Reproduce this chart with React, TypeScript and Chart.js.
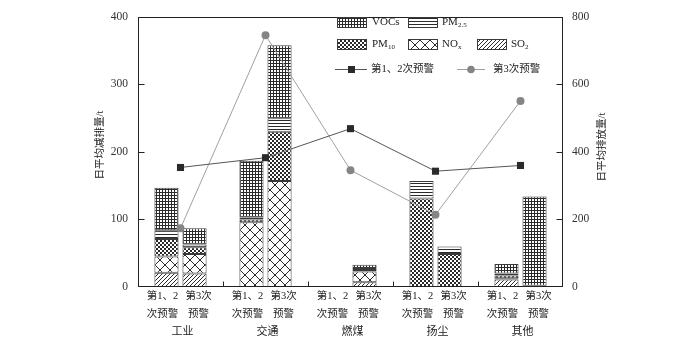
import React, { useEffect, useRef } from 'react';
import { Chart, registerables } from 'chart.js';
Chart.register(...registerables);

const categories = ['工业', '交通', '燃煤', '扬尘', '其他'];
const subLabelsA = ['第1、2', '次预警'];
const subLabelsB = ['第3次', '预警'];

// stacked daily reductions (t), A = 第1、2次预警, B = 第3次预警
const so2A = [21, 0, 0, 0, 11];
const so2B = [20, 0, 7, 0, 0];
const noxA = [24, 96, 0, 0, 2];
const noxB = [29, 157, 16, 0, 0];
const pm10A = [26, 4, 0, 131, 4];
const pm10B = [10, 73, 2, 49, 1];
const pm25A = [13, 3, 0, 26, 3];
const pm25B = [4, 20, 3, 11, 1];
const vocA = [63, 84, 0, 0, 14];
const vocB = [24, 108, 5, 0, 132];

// daily emissions (t), right axis
const warn12 = [354, 383, 469, 343, 360];
const warn3 = [174, 746, 346, 214, 551];

const leftMax = 400;
const leftStep = 100;
const rightMax = 800;
const rightStep = 200;

const FONT = "'Liberation Serif', 'Noto Sans CJK SC', serif";
const INK = '#333';

function makePattern(kind: string): CanvasPattern {
  const sizes: Record<string, number> = { voc: 3, pm25: 3, pm10: 4, nox: 10, so2: 4 };
  const s = sizes[kind];
  const c = document.createElement('canvas');
  c.width = s;
  c.height = s;
  const g = c.getContext('2d')!;
  g.fillStyle = '#fff';
  g.fillRect(0, 0, s, s);
  g.fillStyle = '#2a2a2a';
  g.strokeStyle = '#2a2a2a';
  g.lineWidth = 1;
  if (kind === 'voc') {
    g.fillRect(0, 0, s, 1);
    g.fillRect(0, 0, 1, s);
  } else if (kind === 'pm25') {
    g.fillRect(0, 0, s, 1);
  } else if (kind === 'pm10') {
    g.fillRect(0, 0, 2, 2);
    g.fillRect(2, 2, 2, 2);
  } else if (kind === 'nox') {
    g.beginPath();
    g.moveTo(0, 0); g.lineTo(s, s);
    g.moveTo(s, 0); g.lineTo(0, s);
    g.stroke();
  } else if (kind === 'so2') {
    g.beginPath();
    g.moveTo(-1, s + 1); g.lineTo(s + 1, -1);
    g.moveTo(-1, 1); g.lineTo(1, -1);
    g.moveTo(s - 1, s + 1); g.lineTo(s + 1, s - 1);
    g.stroke();
  }
  return g.createPattern(c, 'repeat')!;
}

function drawRich(ctx: CanvasRenderingContext2D, x: number, y: number, main: string, sub?: string, size = 11) {
  ctx.textAlign = 'left';
  ctx.textBaseline = 'middle';
  ctx.font = `${size}px ${FONT}`;
  ctx.fillText(main, x, y);
  if (sub) {
    const w = ctx.measureText(main).width;
    ctx.font = `${Math.round(size * 0.68)}px ${FONT}`;
    ctx.fillText(sub, x + w, y + 3);
  }
}

export default function App() {
  const ref = useRef<HTMLCanvasElement>(null);

  useEffect(() => {
    document.body.style.margin = '0';
    const canvas = ref.current!;
    const P = {
      voc: makePattern('voc'),
      pm25: makePattern('pm25'),
      pm10: makePattern('pm10'),
      nox: makePattern('nox'),
      so2: makePattern('so2'),
    };

    const bar = (label: string, data: number[], stack: string, fill: any) => ({
      type: 'bar' as const,
      label,
      data,
      stack,
      yAxisID: 'y',
      backgroundColor: fill,
      borderColor: '#3a3a3a',
      borderWidth: 1,
      borderSkipped: false,
      categoryPercentage: 0.66,
      barPercentage: 0.86,
      order: 1,
    });

    const datasets: any[] = [
      {
        type: 'line',
        label: '第1、2次预警',
        data: warn12,
        yAxisID: 'y2',
        borderColor: '#555',
        borderWidth: 1,
        pointStyle: 'rect',
        pointRadius: 5,
        pointBackgroundColor: '#2a2a2a',
        pointBorderColor: '#2a2a2a',
        pointBorderWidth: 0,
        tension: 0,
        order: 0,
      },
      {
        type: 'line',
        label: '第3次预警',
        data: warn3,
        yAxisID: 'y2',
        borderColor: '#a0a0a0',
        borderWidth: 1,
        pointStyle: 'circle',
        pointRadius: 4,
        pointBackgroundColor: '#858585',
        pointBorderColor: '#858585',
        pointBorderWidth: 0,
        tension: 0,
        order: 0,
      },
      bar('SO2', so2A, 'A', P.so2),
      bar('SO2', so2B, 'B', P.so2),
      bar('NOx', noxA, 'A', P.nox),
      bar('NOx', noxB, 'B', P.nox),
      bar('PM10', pm10A, 'A', P.pm10),
      bar('PM10', pm10B, 'B', P.pm10),
      bar('PM2.5', pm25A, 'A', P.pm25),
      bar('PM2.5', pm25B, 'B', P.pm25),
      bar('VOCs', vocA, 'A', P.voc),
      bar('VOCs', vocB, 'B', P.voc),
    ];

    const overlay = {
      id: 'overlay',
      afterDraw(chart: any) {
        const { ctx, chartArea: a, scales } = chart;
        const xs = scales.x, ys = scales.y, y2s = scales.y2;
        ctx.save();
        ctx.strokeStyle = '#222';
        ctx.lineWidth = 1;
        const L = Math.round(a.left) + 0.5, R = Math.round(a.right) - 0.5;
        const T = Math.round(a.top) + 0.5, B = Math.round(a.bottom) - 0.5;
        ctx.strokeRect(L, T, R - L, B - T);
        ctx.beginPath();
        for (let v = leftStep; v < leftMax; v += leftStep) {
          const py = Math.round(ys.getPixelForValue(v)) + 0.5;
          ctx.moveTo(L, py); ctx.lineTo(L + 6, py);
        }
        for (let v = rightStep; v < rightMax; v += rightStep) {
          const py = Math.round(y2s.getPixelForValue(v)) + 0.5;
          ctx.moveTo(R, py); ctx.lineTo(R - 6, py);
        }
        for (let i = 1; i < categories.length; i++) {
          const px = Math.round((xs.getPixelForValue(i - 1) + xs.getPixelForValue(i)) / 2) + 0.5;
          ctx.moveTo(px, B); ctx.lineTo(px, B - 5);
        }
        ctx.stroke();

        // x labels
        ctx.fillStyle = '#222';
        ctx.textAlign = 'center';
        ctx.textBaseline = 'middle';
        ctx.font = `10.5px ${FONT}`;
        const mA = chart.getDatasetMeta(2);
        const mB = chart.getDatasetMeta(3);
        categories.forEach((c: string, i: number) => {
          const xa = mA.data[i].x - 4;
          const xb = mB.data[i].x + 4;
          ctx.fillText(subLabelsA[0], xa, 296);
          ctx.fillText(subLabelsA[1], xa, 314);
          ctx.fillText(subLabelsB[0], xb, 296);
          ctx.fillText(subLabelsB[1], xb, 314);
        });
        ctx.font = `11px ${FONT}`;
        categories.forEach((c: string, i: number) => {
          ctx.fillText(c, xs.getPixelForValue(i) + 2, 332);
        });

        // axis titles
        ctx.font = `10.5px ${FONT}`;
        ctx.save();
        ctx.translate(100, 145);
        ctx.rotate(-Math.PI / 2);
        ctx.fillText('日平均减排量/t', 0, 0);
        ctx.restore();
        ctx.save();
        ctx.translate(602, 147);
        ctx.rotate(-Math.PI / 2);
        ctx.fillText('日平均排放量/t', 0, 0);
        ctx.restore();

        // legend
        const sw = (x: number, yc: number, fill: any) => {
          ctx.fillStyle = fill;
          ctx.fillRect(x, yc - 5, 29, 10);
          ctx.strokeStyle = '#3a3a3a';
          ctx.strokeRect(x + 0.5, yc - 5 + 0.5, 29, 10);
        };
        sw(337, 22, P.voc);
        sw(408, 22, P.pm25);
        sw(337, 44, P.pm10);
        sw(408, 44, P.nox);
        sw(477, 44, P.so2);
        ctx.fillStyle = '#222';
        drawRich(ctx, 372, 22, 'VOCs');
        drawRich(ctx, 442, 22, 'PM', '2.5');
        drawRich(ctx, 372, 44, 'PM', '10');
        drawRich(ctx, 442, 44, 'NO', 'x');
        drawRich(ctx, 511, 44, 'SO', '2');

        ctx.lineWidth = 1;
        ctx.strokeStyle = '#555';
        ctx.beginPath();
        ctx.moveTo(335, 69.5); ctx.lineTo(367, 69.5);
        ctx.stroke();
        ctx.fillStyle = '#2a2a2a';
        ctx.fillRect(348, 66, 7, 7);
        ctx.strokeStyle = '#a0a0a0';
        ctx.beginPath();
        ctx.moveTo(457, 69.5); ctx.lineTo(485, 69.5);
        ctx.stroke();
        ctx.fillStyle = '#858585';
        ctx.beginPath();
        ctx.arc(471, 69.5, 3.8, 0, Math.PI * 2);
        ctx.fill();
        ctx.fillStyle = '#222';
        drawRich(ctx, 371, 69, '第1、2次预警', undefined, 10.5);
        drawRich(ctx, 493, 69, '第3次预警', undefined, 10.5);
        ctx.restore();
      },
    };

    const chart = new Chart(canvas, {
      type: 'bar',
      data: { labels: categories, datasets },
      options: {
        responsive: false,
        animation: false,
        devicePixelRatio: 1,
        layout: { padding: { top: 7, bottom: 52, left: 0, right: 0 } },
        plugins: { legend: { display: false }, tooltip: { enabled: false } },
        scales: {
          x: {
            stacked: true,
            offset: true,
            grid: { display: false, drawTicks: false },
            border: { display: false },
            ticks: { display: false },
          },
          y: {
            stacked: true,
            position: 'left',
            min: 0,
            max: leftMax,
            grid: { display: false, drawTicks: false },
            border: { display: false },
            ticks: { stepSize: leftStep, padding: 10, color: INK, font: { family: FONT, size: 11.5 } },
            afterFit: (s: any) => { s.width = 138; },
          },
          y2: {
            position: 'right',
            min: 0,
            max: rightMax,
            grid: { display: false, drawTicks: false },
            border: { display: false },
            ticks: { stepSize: rightStep, padding: 9, color: INK, font: { family: FONT, size: 11.5 } },
            afterFit: (s: any) => { s.width = 137; },
          },
        },
      } as any,
      plugins: [overlay],
    });
    return () => chart.destroy();
  }, []);

  return <canvas ref={ref} width={700} height={339} style={{ display: 'block', width: 700, height: 339 }} />;
}
